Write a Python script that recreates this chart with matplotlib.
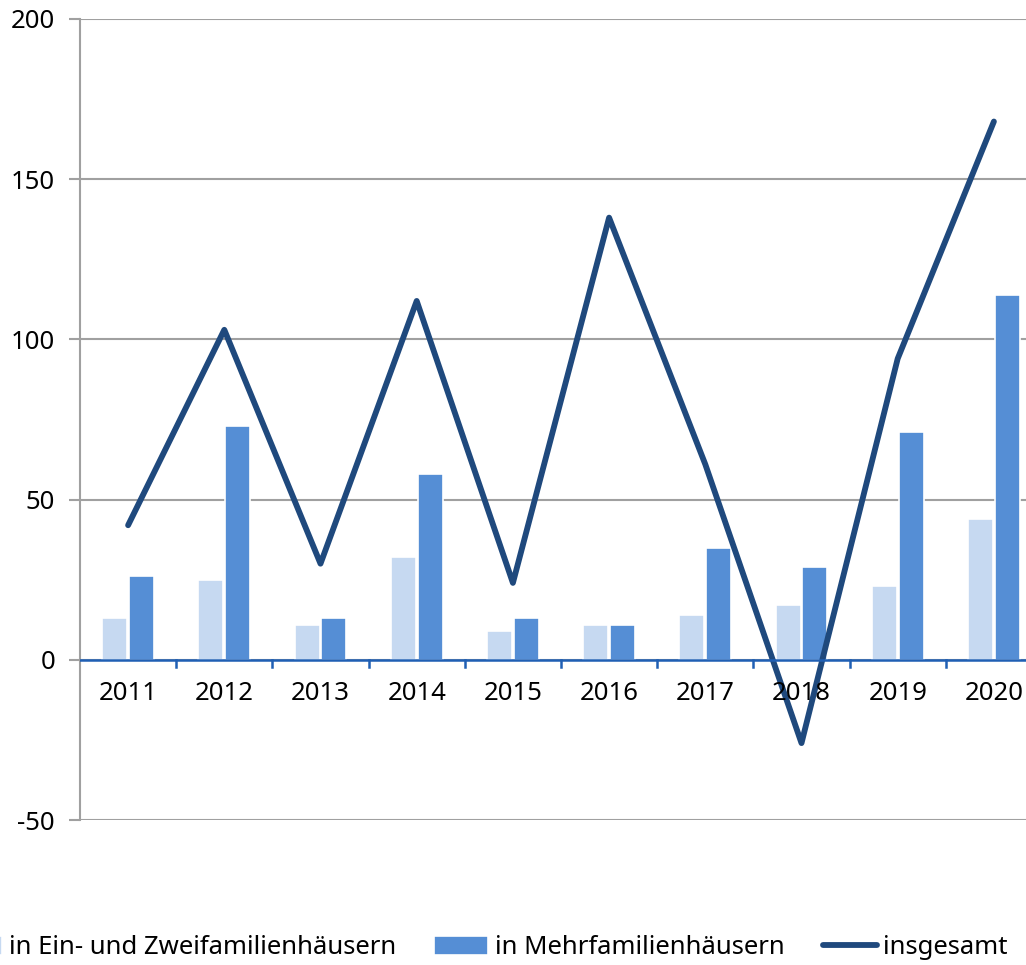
import numpy as np
import matplotlib.pyplot as plt
from matplotlib.ticker import FixedLocator, NullFormatter

plt.rcParams['font.family'] = ['Noto Sans', 'DejaVu Sans']

years = ['2011', '2012', '2013', '2014', '2015', '2016', '2017', '2018', '2019', '2020']
ein_zwei = [13, 25, 11, 32, 9, 11, 14, 17, 23, 44]
mehr = [26, 73, 13, 58, 13, 11, 35, 29, 71, 114]
insgesamt = [42, 103, 30, 112, 24, 138, 61, -26, 94, 168]

fig = plt.figure(figsize=(10.26, 9.65), dpi=100)
ax = fig.add_axes([80/1026, 145/965, 962/1026, 801/965])

x = np.arange(len(years))
b1 = ax.bar(x - 0.14, ein_zwei, width=0.26, color='#c6d9f1', edgecolor='white', linewidth=1.2,
            label='in Ein- und Zweifamilienhäusern', zorder=3)
b2 = ax.bar(x + 0.14, mehr, width=0.26, color='#558ed5', edgecolor='white', linewidth=1.2,
            label='in Mehrfamilienhäusern', zorder=3)
ln, = ax.plot(x, insgesamt, color='#1f497d', lw=4.2, solid_capstyle='round', label='insgesamt', zorder=4)

ax.set_xlim(-0.5, len(years) - 0.5)
ax.set_ylim(-50, 200)
ax.set_yticks([-50, 0, 50, 100, 150, 200])
ax.set_yticklabels(['-50', '0', '50', '100', '150', '200'])
ax.yaxis.grid(True, color='#a0a0a0', lw=1.5, zorder=0)
ax.tick_params(axis='y', length=8, width=1.5, color='#a0a0a0', labelsize=18.5, pad=10)

for s in ['top', 'right', 'bottom']:
    ax.spines[s].set_visible(False)
ax.spines['left'].set_color('#a0a0a0')
ax.spines['left'].set_linewidth(1.5)

ax.axhline(0, color='#1f5fb4', lw=1.8, zorder=5)
ax.xaxis.set_major_locator(FixedLocator(np.arange(0.5, len(years) - 0.5, 1.0)))
ax.xaxis.set_major_formatter(NullFormatter())
ax.tick_params(axis='x', which='both', length=0)
for xi, yr in zip(x, years):
    ax.text(xi, -10.5, yr, ha='center', va='center', fontsize=18.5, zorder=6)
# tick marks on the zero line between categories
for b in np.arange(0.5, len(years) - 0.5, 1.0):
    ax.plot([b, b], [0, -2.3], color='#1f5fb4', lw=1.8, zorder=5, clip_on=False)

fig.legend([b1, b2, ln], ['in Ein- und Zweifamilienhäusern', 'in Mehrfamilienhäusern', 'insgesamt'],
           loc='center', bbox_to_anchor=(0.466, 0.018), ncol=3, frameon=False,
           fontsize=18.5, handlelength=2.1, handleheight=0.75, columnspacing=1.5, handletextpad=0.25)

fig.savefig('out.png', dpi=100)
